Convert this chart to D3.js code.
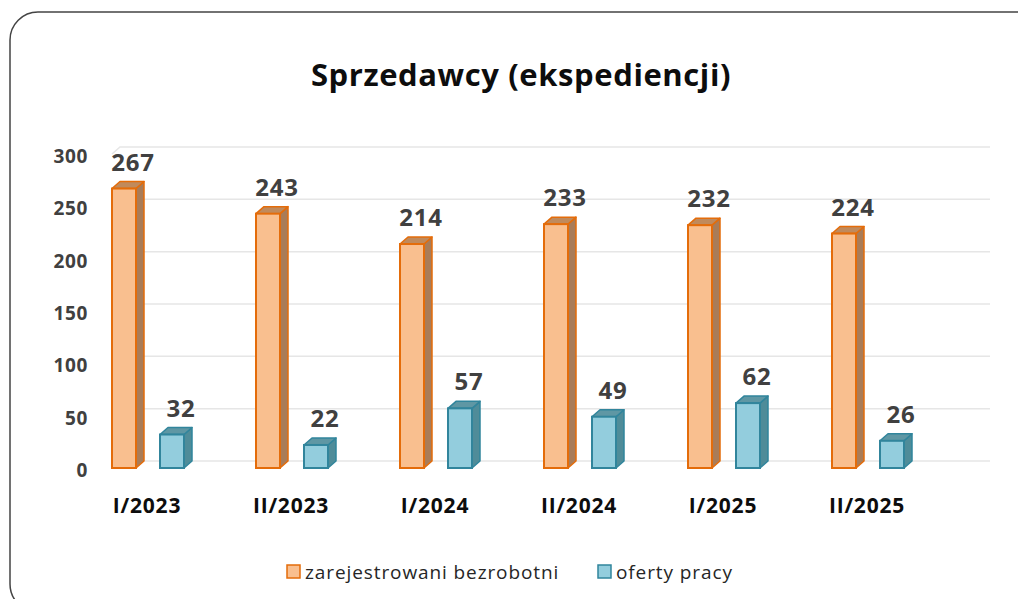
<!DOCTYPE html>
<html>
<head>
<meta charset="utf-8">
<script src="https://cdn.jsdelivr.net/npm/d3@7"></script>
<style>
  body { margin: 0; background: #fff; }
  svg { display: block; }
</style>
</head>
<body>
<svg id="chart" width="1018" height="599"></svg>
<script>
// chart data
var categories = ["I/2023", "II/2023", "I/2024", "II/2024", "I/2025", "II/2025"];
var bezrobotni = [267, 243, 214, 233, 232, 224];
var oferty = [32, 22, 57, 49, 62, 26];
var yTicks = [0, 50, 100, 150, 200, 250, 300];
var seriesNames = ["zarejestrowani bezrobotni", "oferty pracy"];

var svg = d3.select("#chart");

// outer frame with rounded corners (cut by the window on the right/bottom)
svg.append("rect")
    .attr("x", 10).attr("y", 12)
    .attr("width", 1040).attr("height", 600)
    .attr("rx", 28)
    .attr("fill", "#fff")
    .attr("stroke", "#444")
    .attr("stroke-width", 1.5);

svg.append("text")
    .attr("x", 521).attr("y", 86)
    .attr("text-anchor", "middle")
    .style("font-family", "Open Sans")
    .style("font-weight", "bold")
    .style("font-size", "31px")
    .style("letter-spacing", "0.6px")
    .attr("fill", "#0d0d0d")
    .text("Sprzedawcy (ekspediencji)");

var depthX = 8, depthY = 7;

var x = d3.scaleBand()
    .domain(categories)
    .range([75, 939]);

var y = d3.scaleLinear()
    .domain([0, 300])
    .range([468, 154]);

// back wall gridlines
var grid = svg.append("g");
yTicks.forEach(function (t) {
    grid.append("path")
        .attr("d", "M112," + y(t) + "L120," + (y(t) - depthY) + "L990," + (y(t) - depthY))
        .attr("fill", "none")
        .attr("stroke", "#e6e6e6")
        .attr("stroke-width", 1.5);
});

// y axis labels
var yAxis = d3.axisLeft(y).tickValues(yTicks).tickSize(0).tickPadding(0);
svg.append("g")
    .attr("transform", "translate(88,2)")
    .call(yAxis)
    .call(function (g) {
        g.select(".domain").remove();
        g.selectAll("text")
            .attr("dy", "0.35em")
            .style("font-family", "Open Sans")
            .style("font-weight", "bold")
            .style("font-size", "19px")
            .style("letter-spacing", "0.6px")
            .attr("fill", "#404040");
    });

// x axis labels
var xAxis = d3.axisBottom(x).tickSize(0).tickPadding(0);
svg.append("g")
    .attr("transform", "translate(0,506)")
    .call(xAxis)
    .call(function (g) {
        g.select(".domain").remove();
        g.selectAll("text")
            .attr("dy", "0.35em")
            .style("font-family", "Open Sans")
            .style("font-weight", "bold")
            .style("font-size", "21px")
            .style("letter-spacing", "0.8px")
            .attr("fill", "#0d0d0d");
    });

var barW = 24;
var styles = [
    { front: "#f9bf8f", side: "#a97c58", top: "#c08a5c", stroke: "#e46c0a", offset: 37 },
    { front: "#93cddd", side: "#4f8c99", top: "#5f97a4", stroke: "#31859c", offset: 85 }
];

function drawBars(values, st) {
    var g = svg.append("g");
    categories.forEach(function (c, i) {
        var x0 = x(c) + st.offset;
        var x1 = x0 + barW;
        var yt = y(values[i]);
        var yb = y(0);
        // side face
        g.append("path")
            .attr("d", "M" + x1 + "," + yt + "L" + (x1 + depthX) + "," + (yt - depthY) +
                "L" + (x1 + depthX) + "," + (yb - depthY) + "L" + x1 + "," + yb + "Z")
            .attr("fill", st.side).attr("stroke", st.stroke).attr("stroke-width", 1.5)
            .attr("stroke-linejoin", "round");
        // top face
        g.append("path")
            .attr("d", "M" + x0 + "," + yt + "L" + (x0 + depthX) + "," + (yt - depthY) +
                "L" + (x1 + depthX) + "," + (yt - depthY) + "L" + x1 + "," + yt + "Z")
            .attr("fill", st.top).attr("stroke", st.stroke).attr("stroke-width", 1.5)
            .attr("stroke-linejoin", "round");
        // front face
        g.append("rect")
            .attr("x", x0).attr("y", yt)
            .attr("width", barW).attr("height", yb - yt)
            .attr("fill", st.front).attr("stroke", st.stroke).attr("stroke-width", 2);
        // value label
        g.append("text")
            .attr("x", x0 + barW / 2 + 9)
            .attr("y", yt - 18)
            .attr("text-anchor", "middle")
            .style("font-family", "Open Sans")
            .style("font-weight", "bold")
            .style("font-size", "24px")
            .style("letter-spacing", "0.8px")
            .attr("fill", "#404040")
            .text(values[i]);
    });
}

drawBars(bezrobotni, styles[0]);
drawBars(oferty, styles[1]);

// legend
var legendItems = [
    { name: seriesNames[0], st: styles[0], x: 287 },
    { name: seriesNames[1], st: styles[1], x: 598 }
];
legendItems.forEach(function (d) {
    svg.append("rect")
        .attr("x", d.x).attr("y", 565)
        .attr("width", 13).attr("height", 13)
        .attr("fill", d.st.front).attr("stroke", d.st.stroke).attr("stroke-width", 1.5);
    svg.append("text")
        .attr("x", d.x + 18).attr("y", 579)
        .style("font-family", "Open Sans")
        .style("font-size", "19px")
        .style("letter-spacing", "0.9px")
        .attr("fill", "#262626")
        .text(d.name);
});
</script>
</body>
</html>
